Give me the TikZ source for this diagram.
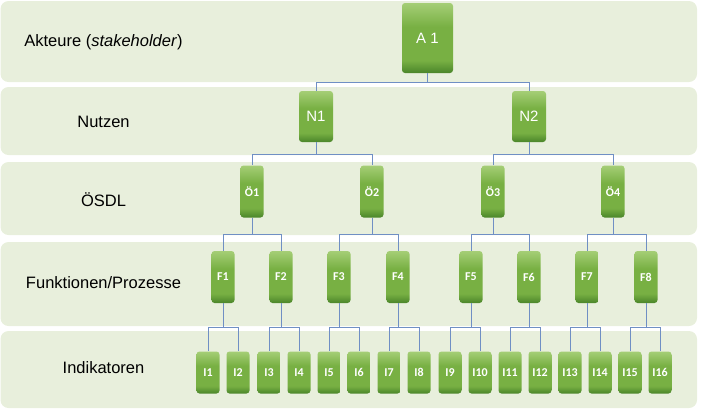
\documentclass[tikz,border=0pt]{standalone}
\usepackage{fontspec}
\setmainfont{Liberation Sans}
\newfontfamily\smallboxfont{Carlito}
\usepackage{tikz}
\definecolor{bandgreen}{HTML}{E8EFDC}
\definecolor{nodelight}{HTML}{A5CE76}
\definecolor{nodemid}{HTML}{78B043}
\definecolor{nodedark}{HTML}{4A852A}
\definecolor{linkblue}{HTML}{6F8FC4}
\pgfdeclareverticalshading{boxfade}{100bp}{color(0bp)=(nodedark); color(25bp)=(nodedark); color(34bp)=(nodemid); color(58bp)=(nodemid); color(75bp)=(nodelight); color(100bp)=(nodelight)}
\tikzset{
    band/.style={fill=bandgreen, rounded corners=8pt},
    level/.style={font=\fontsize{16.5}{19}\selectfont, text=black},
    box/.style={shape=rectangle, rounded corners=3pt, shading=boxfade, text=white, inner sep=0pt},
    bigbox/.style={box, font=\fontsize{15}{17}\selectfont},
    smallbox/.style={box, font=\smallboxfont\bfseries\fontsize{12}{14}\selectfont},
    link/.style={draw=linkblue, line width=0.8pt}}

\begin{document}
\begin{tikzpicture}[x=1pt, y=-1pt]

            \useasboundingbox (0,0) rectangle (704,416);

            \fill[band] (0.5,1) rectangle (697,82);
            \fill[band] (0.5,87) rectangle (697,155);
            \fill[band] (0.5,162) rectangle (697,235);
            \fill[band] (0.5,242) rectangle (697,326);
            \fill[band] (0.5,331) rectangle (697,408);

            \node[level] (lblA) at (103.5,42) {Akteure (\textit{stakeholder})};
            \node[level] (lblN) at (103.5,122) {Nutzen};
            \node[level] (lblO) at (103.5,200) {ÖSDL};
            \node[level] (lblF) at (103.5,283) {Funktionen/Prozesse};
            \node[level] (lblI) at (103.5,368) {Indikatoren};

            \node[bigbox, minimum width=51pt, minimum height=70pt] (A1) at (427.5,38) {A 1};

            \node[bigbox, minimum width=34pt, minimum height=51pt] (N1) at (316,116.5) {N1};
            \node[bigbox, minimum width=34pt, minimum height=51pt] (N2) at (529,116.5) {N2};

            \node[smallbox, minimum width=23pt, minimum height=52pt] (O1) at (252,191.5) {Ö1};
            \node[smallbox, minimum width=23pt, minimum height=52pt] (O2) at (372,191.5) {Ö2};
            \node[smallbox, minimum width=23pt, minimum height=52pt] (O3) at (493,191.5) {Ö3};
            \node[smallbox, minimum width=23pt, minimum height=52pt] (O4) at (613,191.5) {Ö4};

            \node[smallbox, minimum width=23pt, minimum height=52pt] (F1) at (223,277) {F1};
            \node[smallbox, minimum width=23pt, minimum height=52pt] (F2) at (281,277) {F2};
            \node[smallbox, minimum width=23pt, minimum height=52pt] (F3) at (339,277) {F3};
            \node[smallbox, minimum width=23pt, minimum height=52pt] (F4) at (398,277) {F4};
            \node[smallbox, minimum width=23pt, minimum height=52pt] (F5) at (471,277) {F5};
            \node[smallbox, minimum width=23pt, minimum height=52pt] (F6) at (529,277) {F6};
            \node[smallbox, minimum width=23pt, minimum height=52pt] (F7) at (587,277) {F7};
            \node[smallbox, minimum width=23pt, minimum height=52pt] (F8) at (646,277) {F8};

            \node[smallbox, minimum width=23pt, minimum height=42pt] (I1) at (208,372.5) {I1};
            \node[smallbox, minimum width=23pt, minimum height=42pt] (I2) at (238,372.5) {I2};
            \node[smallbox, minimum width=23pt, minimum height=42pt] (I3) at (269,372.5) {I3};
            \node[smallbox, minimum width=23pt, minimum height=42pt] (I4) at (299,372.5) {I4};
            \node[smallbox, minimum width=23pt, minimum height=42pt] (I5) at (329,372.5) {I5};
            \node[smallbox, minimum width=23pt, minimum height=42pt] (I6) at (359,372.5) {I6};
            \node[smallbox, minimum width=23pt, minimum height=42pt] (I7) at (389,372.5) {I7};
            \node[smallbox, minimum width=23pt, minimum height=42pt] (I8) at (419,372.5) {I8};
            \node[smallbox, minimum width=23pt, minimum height=42pt] (I9) at (450,372.5) {I9};
            \node[smallbox, minimum width=23pt, minimum height=42pt] (I10) at (480,372.5) {I10};
            \node[smallbox, minimum width=23pt, minimum height=42pt] (I11) at (510,372.5) {I11};
            \node[smallbox, minimum width=23pt, minimum height=42pt] (I12) at (540,372.5) {I12};
            \node[smallbox, minimum width=23pt, minimum height=42pt] (I13) at (570,372.5) {I13};
            \node[smallbox, minimum width=23pt, minimum height=42pt] (I14) at (600,372.5) {I14};
            \node[smallbox, minimum width=23pt, minimum height=42pt] (I15) at (630,372.5) {I15};
            \node[smallbox, minimum width=23pt, minimum height=42pt] (I16) at (660,372.5) {I16};

            \draw[link] (A1.south) -- ++(0,9) -| (N1.north);
            \draw[link] (A1.south) -- ++(0,9) -| (N2.north);

            \draw[link] (N1.south) -- ++(0,12) -| (O1.north);
            \draw[link] (N1.south) -- ++(0,12) -| (O2.north);
            \draw[link] (N2.south) -- ++(0,12) -| (O3.north);
            \draw[link] (N2.south) -- ++(0,12) -| (O4.north);

            \draw[link] (O1.south) -- ++(0,17) -| (F1.north);
            \draw[link] (O1.south) -- ++(0,17) -| (F2.north);
            \draw[link] (O2.south) -- ++(0,17) -| (F3.north);
            \draw[link] (O2.south) -- ++(0,17) -| (F4.north);
            \draw[link] (O3.south) -- ++(0,17) -| (F5.north);
            \draw[link] (O3.south) -- ++(0,17) -| (F6.north);
            \draw[link] (O4.south) -- ++(0,17) -| (F7.north);
            \draw[link] (O4.south) -- ++(0,17) -| (F8.north);

            \draw[link] (F1.south) -- ++(0,24) -| (I1.north);
            \draw[link] (F1.south) -- ++(0,24) -| (I2.north);
            \draw[link] (F2.south) -- ++(0,24) -| (I3.north);
            \draw[link] (F2.south) -- ++(0,24) -| (I4.north);
            \draw[link] (F3.south) -- ++(0,24) -| (I5.north);
            \draw[link] (F3.south) -- ++(0,24) -| (I6.north);
            \draw[link] (F4.south) -- ++(0,24) -| (I7.north);
            \draw[link] (F4.south) -- ++(0,24) -| (I8.north);
            \draw[link] (F5.south) -- ++(0,24) -| (I9.north);
            \draw[link] (F5.south) -- ++(0,24) -| (I10.north);
            \draw[link] (F6.south) -- ++(0,24) -| (I11.north);
            \draw[link] (F6.south) -- ++(0,24) -| (I12.north);
            \draw[link] (F7.south) -- ++(0,24) -| (I13.north);
            \draw[link] (F7.south) -- ++(0,24) -| (I14.north);
            \draw[link] (F8.south) -- ++(0,24) -| (I15.north);
            \draw[link] (F8.south) -- ++(0,24) -| (I16.north);

        \end{tikzpicture}
\end{document}
